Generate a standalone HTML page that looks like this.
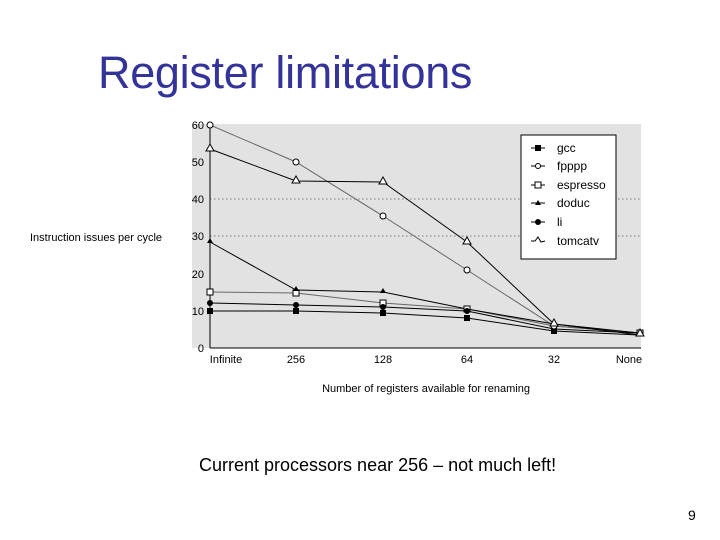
<!DOCTYPE html>
<html><head><style>
body{margin:0;width:720px;height:540px;background:#fff;position:relative;overflow:hidden;font-family:"Liberation Sans",sans-serif}
.t{position:absolute;left:98px;top:47px;font-size:45px;color:#333399;letter-spacing:-0.3px}
.c{position:absolute;left:199px;top:455px;font-size:18px;color:#000}
.n{position:absolute;left:688px;top:507px;font-size:14px}
</style></head><body>
<div class="t">Register limitations</div>
<svg width="720" height="540" style="position:absolute;left:0;top:0" font-family="Liberation Sans, sans-serif" font-size="11">
<rect x="192" y="124" width="449" height="224" fill="#e2e2e2"/>
<g stroke="#555" stroke-dasharray="1.5,2.5" stroke-width="0.8">
<line x1="210" y1="199" x2="641" y2="199"/><line x1="210" y1="236" x2="641" y2="236"/>
</g>
<line x1="210" y1="124" x2="210" y2="348" stroke="#000"/>
<line x1="210" y1="348" x2="641" y2="348" stroke="#000"/>
<g text-anchor="end" fill="#000">
<text x="204" y="129">60</text><text x="204" y="166">50</text><text x="204" y="203">40</text><text x="204" y="240">30</text><text x="204" y="278">20</text><text x="204" y="315">10</text><text x="204" y="352">0</text>
</g>
<text x="30" y="241" fill="#000">Instruction issues per cycle</text>
<g text-anchor="middle" fill="#000">
<text x="226" y="363">Infinite</text><text x="296" y="363">256</text><text x="383" y="363">128</text><text x="467" y="363">64</text><text x="554" y="363">32</text><text x="629" y="363">None</text>
<text x="426" y="392">Number of registers available for renaming</text>
</g>
<g fill="none" stroke-width="1">
<polyline stroke="#000" points="210,311 296,311 383,313 467,318 554,331 640,335"/>
<polyline stroke="#666" points="210,125 296,162 383,216 467,270 554,326 640,333"/>
<polyline stroke="#666" points="210,292 296,293 383,303 467,309 554,326 640,333"/>
<polyline stroke="#000" points="210,242 296,290 383,292 467,309 554,324 640,335"/>
<polyline stroke="#000" points="210,303 296,305 383,307 467,311 554,329 640,333"/>
<polyline stroke="#000" points="210,149 296,181 383,182 467,242 554,324 640,333"/>
</g>
<g fill="#000"><rect x="207" y="308" width="6" height="6"/><rect x="293" y="308" width="6" height="6"/><rect x="380" y="310" width="6" height="6"/><rect x="464" y="315" width="6" height="6"/><rect x="551" y="328" width="6" height="6"/></g>
<g fill="#fff" stroke="#000"><circle cx="210" cy="125" r="3"/><circle cx="296" cy="162" r="3"/><circle cx="383" cy="216" r="3"/><circle cx="467" cy="270" r="3"/><circle cx="554" cy="326" r="3"/></g>
<g fill="#fff" stroke="#000"><rect x="207" y="289" width="6" height="6"/><rect x="293" y="290" width="6" height="6"/><rect x="380" y="300" width="6" height="6"/><rect x="464" y="306" width="6" height="6"/><rect x="637" y="330" width="6" height="6"/></g>
<g fill="#000"><path d="M210,238 l3,5 h-6z"/><path d="M296,286 l3,5 h-6z"/><path d="M383,288 l3,5 h-6z"/></g>
<g fill="#000"><circle cx="210" cy="303" r="3"/><circle cx="296" cy="305" r="3"/><circle cx="383" cy="307" r="3"/><circle cx="467" cy="311" r="3"/></g>
<g fill="#fff" stroke="#000"><path d="M210,144 l4,7 h-8z"/><path d="M296,176 l4,7 h-8z"/><path d="M383,177 l4,7 h-8z"/><path d="M467,237 l4,7 h-8z"/><path d="M554,319 l4,7 h-8z"/><path d="M640,329 l4,7 h-8z"/></g>
<rect x="521" y="135" width="95" height="124" fill="#fff" stroke="#000"/>
<g stroke="#000" fill="none">
<line x1="531" y1="148" x2="545" y2="148"/><line x1="531" y1="166" x2="545" y2="166"/><line x1="531" y1="185" x2="545" y2="185"/><line x1="531" y1="203" x2="545" y2="203"/><line x1="531" y1="222" x2="545" y2="222"/><polyline points="531,241 535,241 538,237 541,242 545,241"/>
</g>
<rect x="535" y="145" width="6" height="6" fill="#000"/>
<circle cx="538" cy="166" r="2.5" fill="#fff" stroke="#000"/>
<rect x="535" y="182" width="6" height="6" fill="#fff" stroke="#000"/>
<path d="M538,200 l3,5 h-6z" fill="#000"/>
<circle cx="538" cy="222" r="3" fill="#000"/>
<g fill="#000" font-size="12"><text x="557" y="152">gcc</text><text x="557" y="170">fpppp</text><text x="557" y="189">espresso</text><text x="557" y="207">doduc</text><text x="557" y="226">li</text><text x="557" y="245">tomcatv</text></g>
</svg>
<div class="c">Current processors near 256 – not much left!</div>
<div class="n">9</div>
</body></html>
